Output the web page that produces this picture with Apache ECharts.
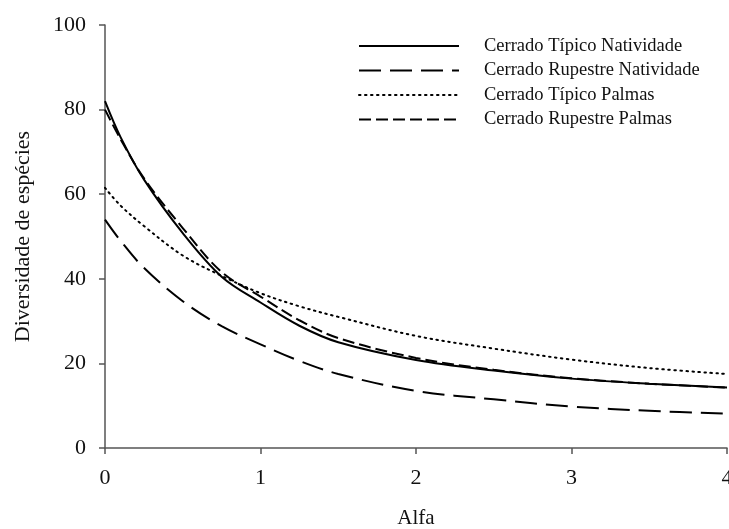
<!DOCTYPE html>
<html>
<head>
<meta charset="utf-8">
<script src="https://cdn.jsdelivr.net/npm/echarts@6/dist/echarts.min.js"></script>
<style>
  html, body { margin: 0; padding: 0; background: #fff; }
  #chart { width: 729px; height: 529px; }
</style>
</head>
<body>
<div id="chart"></div>
<script>
// Rényi diversity profiles: order alfa vs. diversity
const alfa = [0, 0.1, 0.25, 0.5, 0.75, 1, 1.25, 1.5, 2, 2.5, 3, 3.5, 4];

const seriesNames = [
  'Cerrado Típico Natividade',
  'Cerrado Rupestre Natividade',
  'Cerrado Típico Palmas',
  'Cerrado Rupestre Palmas'
];

const tipicoNatividade   = [82.0, 73.5, 63.5, 50.8, 40.5, 34.4, 28.9, 25.0, 20.8, 18.3, 16.4, 15.2, 14.3];
const rupestreNatividade = [54.0, 49.0, 42.6, 34.7, 28.8, 24.5, 20.6, 17.5, 13.5, 11.5, 9.8, 8.8, 8.1];
const tipicoPalmas       = [61.5, 57.3, 52.5, 45.5, 40.7, 36.6, 33.5, 31.0, 26.5, 23.5, 20.9, 18.9, 17.5];
const rupestrePalmas     = [80.0, 73.0, 63.8, 52.0, 41.6, 35.8, 30.2, 26.0, 21.3, 18.5, 16.5, 15.2, 14.3];

const xTicks = [0, 1, 2, 3, 4];
const yTicks = [0, 20, 40, 60, 80, 100];

const valuesList = [tipicoNatividade, rupestreNatividade, tipicoPalmas, rupestrePalmas];
const dashes = ['solid', [22, 9], [1.5, 4.5], [12, 5]];

const serif = '"Liberation Serif", "Times New Roman", serif';
const axisColor = '#555';

const chart = echarts.init(document.getElementById('chart'), null, { renderer: 'canvas' });

chart.setOption({
  backgroundColor: '#ffffff',
  animation: false,
  grid: { left: 105, right: 2, top: 25, bottom: 81, containLabel: false, outerBoundsMode: 'none' },
  legend: {
    orient: 'vertical',
    left: 353,
    top: 31,
    itemWidth: 100,
    itemHeight: 14,
    itemGap: 4.5,
    data: seriesNames,
    itemStyle: { opacity: 0 },
    textStyle: {
      fontFamily: serif,
      fontSize: 18.5,
      color: '#111',
      lineHeight: 20,
      padding: [0, 0, 0, 20]
    }
  },
  xAxis: {
    type: 'value',
    min: xTicks[0],
    max: xTicks[xTicks.length - 1],
    interval: 1,
    name: 'Alfa',
    nameLocation: 'middle',
    nameGap: 60,
    nameTextStyle: { fontFamily: serif, fontSize: 21, color: '#111' },
    axisLine: { show: true, onZero: false, lineStyle: { color: axisColor, width: 1.5 } },
    axisTick: { show: true, inside: false, length: 6, lineStyle: { color: axisColor, width: 1.5 } },
    axisLabel: { fontFamily: serif, fontSize: 22, color: '#111', margin: 19, hideOverlap: false },
    splitLine: { show: false }
  },
  yAxis: {
    type: 'value',
    min: yTicks[0],
    max: yTicks[yTicks.length - 1],
    interval: 20,
    name: 'Diversidade de espécies',
    nameLocation: 'middle',
    nameGap: 71,
    nameTextStyle: { fontFamily: serif, fontSize: 22, color: '#111' },
    axisLine: { show: true, lineStyle: { color: axisColor, width: 1.5 } },
    axisTick: { show: true, inside: false, length: 6, lineStyle: { color: axisColor, width: 1.5 } },
    axisLabel: { fontFamily: serif, fontSize: 22, color: '#111', margin: 19 },
    splitLine: { show: false }
  },
  series: seriesNames.map((name, i) => ({
    name: name,
    type: 'line',
    smooth: 0.35,
    symbol: 'none',
    showSymbol: false,
    data: alfa.map((a, j) => [a, valuesList[i][j]]),
    lineStyle: { color: '#000', width: 2, type: dashes[i], cap: i === 2 ? 'round' : 'butt' },
    itemStyle: { color: '#000' }
  }))
});
</script>
</body>
</html>
